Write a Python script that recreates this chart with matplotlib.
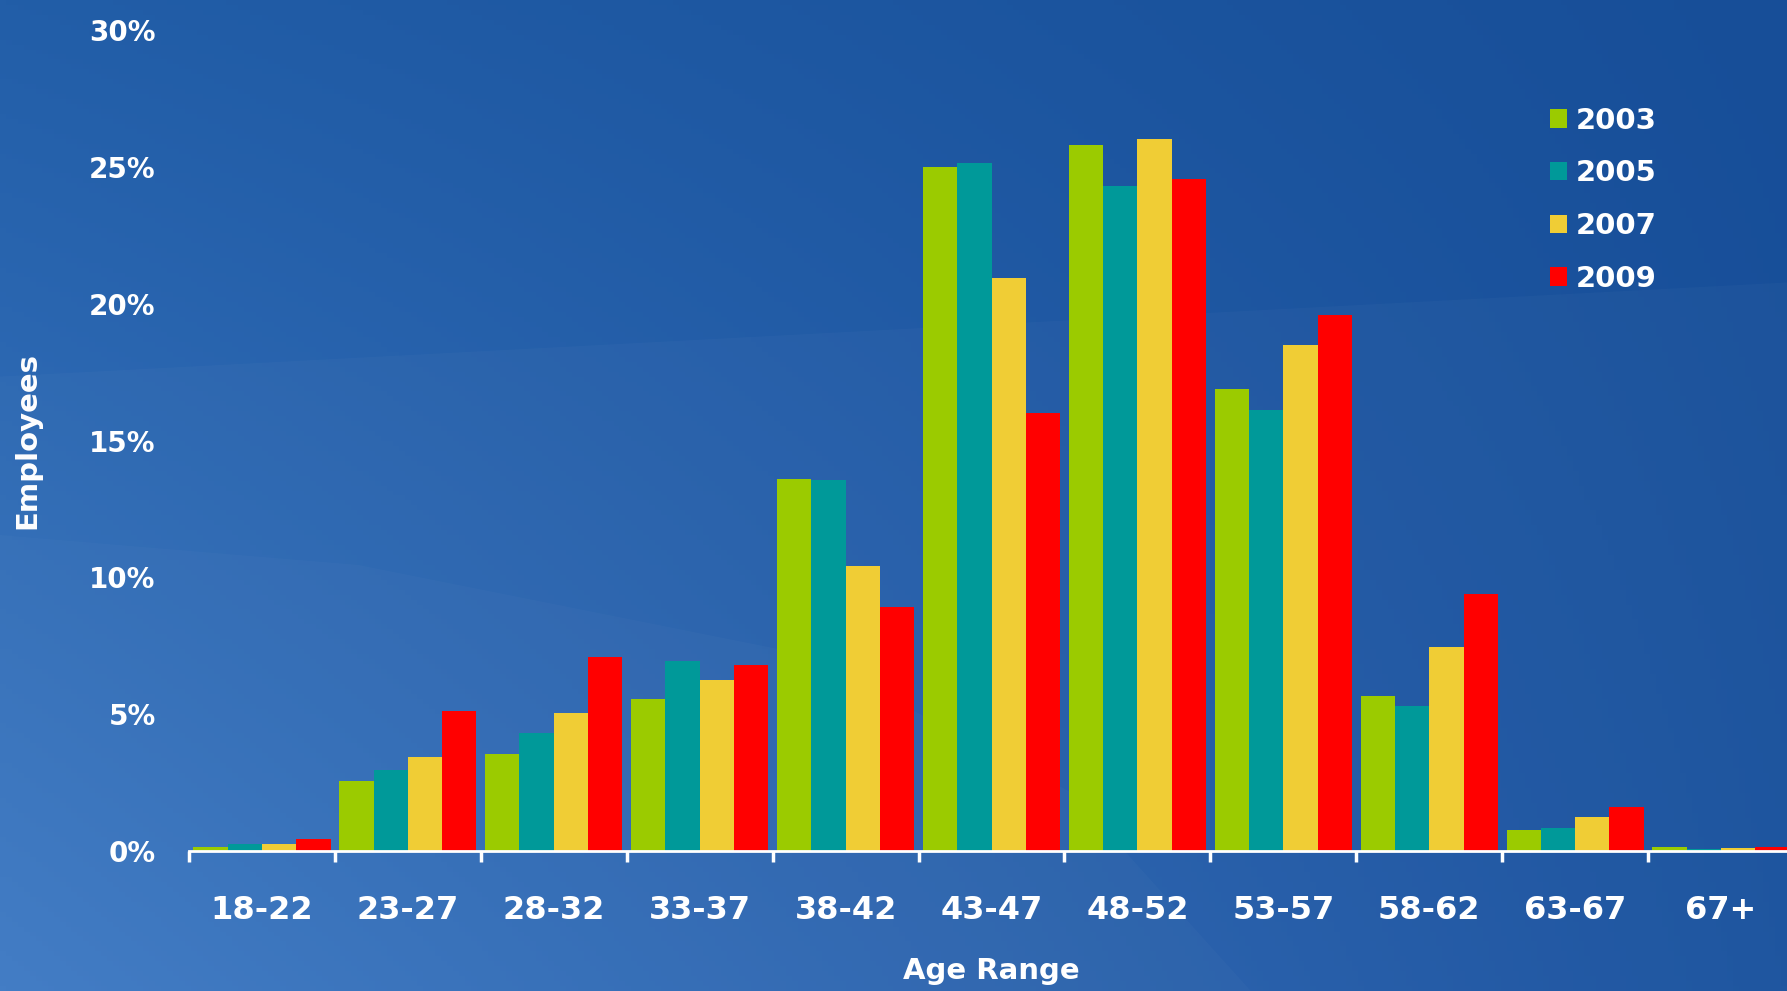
import numpy as np
import matplotlib
matplotlib.use('Agg')
import matplotlib.pyplot as plt
from matplotlib.patches import Patch, Polygon

# data (percent of employees per age range)
age_ranges = ['18-22', '23-27', '28-32', '33-37', '38-42', '43-47',
              '48-52', '53-57', '58-62', '63-67', '67+']
years = ['2003', '2005', '2007', '2009']
pct_2003 = [0.15, 2.55, 3.55, 5.55, 13.6, 25.0, 25.8, 16.9, 5.65, 0.76, 0.14]
pct_2005 = [0.27, 2.95, 4.3, 6.95, 13.55, 25.15, 24.3, 16.1, 5.3, 0.83, 0.08]
pct_2007 = [0.26, 3.45, 5.05, 6.25, 10.4, 20.95, 26.0, 18.5, 7.45, 1.23, 0.10]
pct_2009 = [0.44, 5.1, 7.1, 6.8, 8.9, 16.0, 24.55, 19.6, 9.4, 1.59, 0.13]
colors = ['#9BCB00', '#009999', '#F0CD35', '#FF0000']

plt.rcParams['font.family'] = 'DejaVu Sans'
plt.rcParams['font.weight'] = 'bold'

fig = plt.figure(figsize=(17.87, 9.91), dpi=100)

# background gradient
bg = fig.add_axes([0, 0, 1, 1], zorder=-2)
bg.set_axis_off()
tl = np.array([0x22, 0x5E, 0xA8]) / 255
tr = np.array([0x17, 0x4E, 0x98]) / 255
bl = np.array([0x3C, 0x78, 0xC3]) / 255
br = np.array([0x1A, 0x52, 0x9E]) / 255
u = np.linspace(0, 1, 300)[None, :, None]
v = np.linspace(0, 1, 200)[:, None, None]
img = (1 - v) * ((1 - u) * tl + u * tr) + v * ((1 - u) * bl + u * br)
bg.imshow(img, extent=[0, 1, 0, 1], aspect='auto', origin='upper')
bg.add_patch(Polygon([[0, 0], [0, 0.62], [1, 0.715], [1, 0]], closed=True,
                     facecolor='white', alpha=0.025, edgecolor='none'))
bg.add_patch(Polygon([[0, 0], [0, 0.46], [0.2, 0.43], [0.45, 0.34], [0.6, 0.2], [0.7, 0]],
                     closed=True, facecolor='white', alpha=0.02, edgecolor='none'))
bg.set_xlim(0, 1)
bg.set_ylim(0, 1)

ax = fig.add_axes([189 / 1787, 140 / 991, 1605 / 1787, 821 / 991])
ax.patch.set_alpha(0)

x = np.arange(len(age_ranges))
w = 0.235
series = [pct_2003, pct_2005, pct_2007, pct_2009]
for i, (vals, c) in enumerate(zip(series, colors)):
    ax.bar(x + (i - 1.5) * w, vals, width=w, color=c, linewidth=0, zorder=2)

ax.set_xlim(-0.5, 10.5)
ax.set_ylim(0, 30)

for s in ['top', 'right', 'left']:
    ax.spines[s].set_visible(False)
ax.spines['bottom'].set_color('white')
ax.spines['bottom'].set_linewidth(2)
ax.spines['bottom'].set_zorder(3)

# boundary ticks (major) and centred labels (minor)
ax.set_xticks(np.arange(-0.5, 10.5, 1.0))
ax.set_xticklabels([])
ax.tick_params(axis='x', which='major', direction='out', length=8, width=2.5, colors='white')
ax.set_xticks(x, minor=True)
ax.set_xticklabels(age_ranges, minor=True)
ax.tick_params(axis='x', which='minor', length=0, pad=32, labelsize=23, labelcolor='white')

ax.set_yticks(range(0, 31, 5))
ax.set_yticklabels([f'{t}%' for t in range(0, 31, 5)])
ax.tick_params(axis='y', length=0, pad=24, labelsize=20, labelcolor='white')

ax.set_xlabel('Age Range', fontsize=21, fontweight='bold', color='white', labelpad=22)
ax.set_ylabel('Employees', fontsize=21, fontweight='bold', color='white', labelpad=34)

handles = [Patch(facecolor=c, edgecolor='none') for c in colors]
leg = fig.legend(handles, years, loc='upper left', bbox_to_anchor=(1538 / 1787, 1 - 95 / 991),
                 frameon=False, fontsize=21, handlelength=0.6, handleheight=0.6,
                 handletextpad=0.3, labelspacing=0.85, borderaxespad=0)
for t in leg.get_texts():
    t.set_color('white')

fig.savefig('out.png', dpi=100)
